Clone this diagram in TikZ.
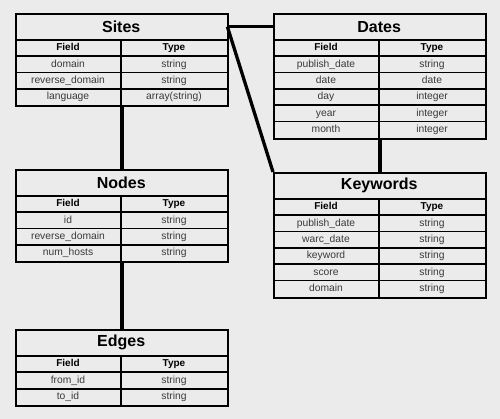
\documentclass[tikz,border=0pt]{standalone}
\usepackage{fontspec}
\setmainfont{Liberation Sans}
\definecolor{bg}{HTML}{EBEBEB}
\definecolor{rowtext}{HTML}{3A3A3A}
\tikzset{
  border/.style={line width=1.8pt},
  link/.style={line width=3.3pt},
  tablebox/.style={draw, border, fill=bg, inner sep=0pt, minimum width=212pt, anchor=north west},
  titlebox/.style={inner sep=0pt, minimum width=212pt, minimum height=27pt, anchor=north west, font=\bfseries\fontsize{16}{18}\selectfont},
  headtext/.style={inner sep=0pt, text height=7.4pt, text depth=2.2pt, font=\bfseries\fontsize{10}{12}\selectfont},
  celltext/.style={inner sep=0pt, text height=7.6pt, text depth=2.2pt, font=\fontsize{10.3}{12}\selectfont, text=rowtext},
}
\newcommand\mktable[6]{%
  \pgfmathsetmacro\tabh{27+(#5+1)*16.3}%
  \begin{scope}[shift={(#2,#3)}]
    \node[tablebox, minimum height=\tabh pt] (#1) at (0,0) {};
    \node[titlebox] (#1-title) at (0,0) {#4};
    \draw[border] (0,27) -- (212,27);
    \draw[border] (106,27) -- (106,\tabh);
    \node[headtext] (#1-hf) at (53,35.15) {Field};
    \node[headtext] (#1-ht) at (159,35.15) {Type};
    \foreach \f/\t [count=\i] in {#6} {
      \draw[border] (0,{27+\i*16.3}) -- (212,{27+\i*16.3});
      \node[celltext] (#1-f\i) at (53,{27+\i*16.3+8.15}) {\f};
      \node[celltext] (#1-t\i) at (159,{27+\i*16.3+8.15}) {\t};
    }
  \end{scope}%
}
\begin{document}
\begin{tikzpicture}[x=1pt,y=-1pt]
  \fill[bg] (0,0) rectangle (500,419);
  \useasboundingbox (0,0) rectangle (500,419);
  \mktable{sites}{15}{13}{Sites}{3}{domain/string, reverse\_domain/string, language/array(string)}
  \mktable{dates}{273}{13}{Dates}{5}{publish\_date/string, date/date, day/integer, year/integer, month/integer}
  \mktable{keywords}{273}{172}{Keywords}{5}{publish\_date/string, warc\_date/string, keyword/string, score/string, domain/string}
  \mktable{nodes}{15}{169}{Nodes}{3}{id/string, reverse\_domain/string, num\_hosts/string}
  \mktable{edges}{15}{329}{Edges}{2}{from\_id/string, to\_id/string}
  \draw[link] (sites.south) -- (nodes.north);
  \draw[link] (nodes.south) -- (edges.north);
  \draw[link] (dates.south) -- (keywords.north);
  \draw[link] (sites-title.east) -- (dates-title.west);
  \draw[link] (sites-title.east) -- (keywords.north west);
\end{tikzpicture}
\end{document}
